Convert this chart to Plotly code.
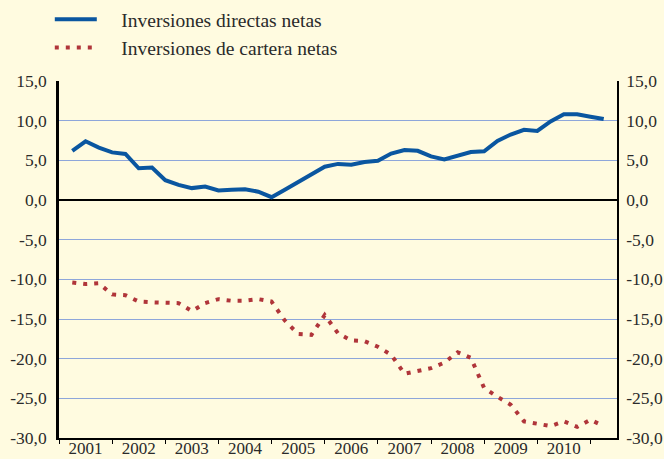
import plotly.graph_objects as go

# Quarterly observations, 2001 Q1 .. 2011 Q1 (percent)
quarters = [f"{y}T{q}" for y in range(2001, 2012) for q in range(1, 5)][:41]
directas = [
    6.2, 7.4, 6.6, 6.0,
    5.8, 4.0, 4.1, 2.5,
    1.9, 1.5, 1.7, 1.2,
    1.3, 1.35, 1.05, 0.35,
    1.3, 2.3, 3.2, 4.2,
    4.55, 4.45, 4.8, 4.95,
    5.85, 6.3, 6.2, 5.5,
    5.1, 5.55, 6.05, 6.15,
    7.45, 8.25, 8.85, 8.7,
    9.9, 10.8, 10.8, 10.5,
    10.2,
]
cartera = [
    -10.4, -10.6, -10.5, -11.9,
    -12.0, -12.8, -12.9, -12.9,
    -13.0, -14.0, -13.0, -12.5,
    -12.7, -12.7, -12.5, -12.8,
    -15.2, -16.9, -17.0, -14.5,
    -16.8, -17.7, -17.8, -18.5,
    -19.5, -21.9, -21.6, -21.2,
    -20.5, -19.2, -19.9, -23.7,
    -24.8, -25.8, -27.9, -28.2,
    -28.5, -27.9, -28.6, -27.7,
    -28.5,
]
years = list(range(2001, 2011))
y_ticks = [15, 10, 5, 0, -5, -10, -15, -20, -25, -30]
y_labels = ["15,0", "10,0", "5,0", "0,0", "-5,0", "-10,0", "-15,0", "-20,0", "-25,0", "-30,0"]

# each quarter plotted at its end, on a continuous year scale
x_pos = [2001 + 0.25 * (i + 1) for i in range(len(quarters))]

BG = "#FFFBE0"
FONT = "Liberation Serif, Times New Roman, serif"
TXT = "#2a2a2a"
GRID = "#8EA6DA"
PAD = "\u00a0" * 4  # extra room between legend key and its label

fig = go.Figure()
fig.add_trace(go.Scatter(
    x=x_pos, y=directas, mode="lines", name=PAD + "Inversiones directas netas",
    line=dict(color="#0A56A0", width=4), text=quarters,
))
fig.add_trace(go.Scatter(
    x=x_pos, y=cartera, mode="lines", name=PAD + "Inversiones de cartera netas",
    line=dict(color="#B0353A", width=4, dash="4px,7px"), text=quarters,
))
# carrier for the right-hand value axis
fig.add_trace(go.Scatter(
    x=x_pos, y=directas, yaxis="y2", mode="lines", showlegend=False,
    line=dict(width=0), opacity=0, hoverinfo="skip",
))

fig.update_layout(
    width=664, height=459,
    margin=dict(l=59, r=47, t=81, b=21, autoexpand=False),
    paper_bgcolor=BG, plot_bgcolor=BG,
    font=dict(family=FONT, size=17.5, color=TXT),
    showlegend=True,
    legend=dict(
        x=-0.0165, y=1.227, xanchor="left", yanchor="top",
        bgcolor="rgba(0,0,0,0)", font=dict(family=FONT, size=19.5, color=TXT),
        itemwidth=42, tracegroupgap=0,
    ),
    xaxis=dict(
        range=[2001, 2011.5], automargin=False,
        tickvals=[y + 0.5 for y in years], ticktext=[str(y) for y in years],
        ticks="", showgrid=False, zeroline=False, tickangle=0,
        showline=True, linecolor="black", linewidth=2,
        ticklabelstandoff=-6, tickfont=dict(size=17),
        minor=dict(ticks="outside", tick0=2001, dtick=1, ticklen=4,
                   tickcolor="black", tickwidth=1, showgrid=False),
    ),
    yaxis=dict(
        range=[-30, 15], tickvals=y_ticks, ticktext=y_labels, automargin=False,
        ticks="", showgrid=True, gridcolor=GRID, gridwidth=1,
        zeroline=True, zerolinecolor="black", zerolinewidth=2,
        showline=True, linecolor="black", linewidth=2.5,
        ticklabelstandoff=6,
    ),
    yaxis2=dict(
        range=[-30, 15], tickvals=y_ticks, ticktext=y_labels, automargin=False,
        overlaying="y", side="right", anchor="x",
        ticks="", showgrid=False, zeroline=False,
        showline=True, linecolor="black", linewidth=1.5,
        ticklabelstandoff=4,
    ),
)

fig.write_html("out.html")
